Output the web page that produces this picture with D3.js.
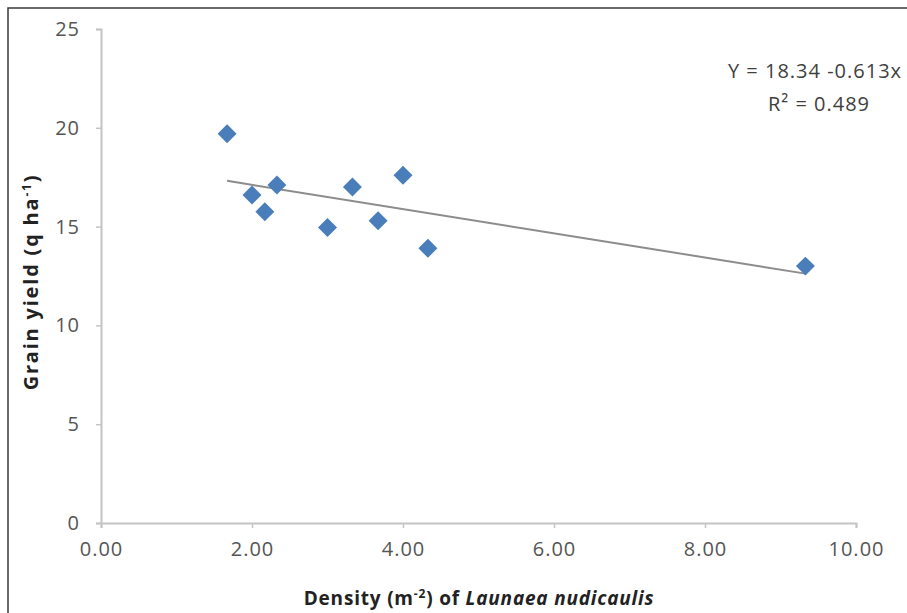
<!DOCTYPE html>
<html>
<head>
<meta charset="utf-8">
<script src="https://cdn.jsdelivr.net/npm/d3@7"></script>
<style>
  body { margin: 0; background: #fff; }
  svg { display: block; font-family: "Open Sans", "Liberation Sans", sans-serif; }
</style>
</head>
<body>
<svg id="chart" width="907" height="613"></svg>
<script>
// weed density (plants m-2) vs grain yield (q/ha)
var density = [1.67, 2.00, 2.17, 2.33, 3.00, 3.33, 3.67, 4.00, 4.33, 9.33]
var grainYield = [19.7, 16.6, 15.75, 17.1, 14.95, 17.0, 15.3, 17.6, 13.9, 13.0]
var xTicks = [0, 2, 4, 6, 8, 10]
var yTicks = [0, 5, 10, 15, 20, 25]
var intercept = 18.34, slope = -0.613
var equationLines = ['Y = 18.34 -0.613x', 'R² = 0.489']

var svg = d3.select('#chart')

var x = d3.scaleLinear().domain([0, 10]).range([101, 856])
var y = d3.scaleLinear().domain([0, 25]).range([523, 29])

// outer frame
svg.append('rect')
  .attr('x', 8).attr('y', 8)
  .attr('width', 920).attr('height', 640)
  .attr('fill', 'none')
  .attr('stroke', '#3a3a3a')
  .attr('stroke-width', 1.5)

var axisColor = '#c4c4c4'
var labelColor = '#555'

var yAxis = svg.append('g')
  .attr('transform', 'translate(' + x(0) + ',0)')
  .call(d3.axisLeft(y).tickValues(yTicks).tickSize(5).tickPadding(16).tickFormat(d3.format('d')))
var xAxis = svg.append('g')
  .attr('transform', 'translate(0,' + y(0) + ')')
  .call(d3.axisBottom(x).tickValues(xTicks).tickSize(5).tickPadding(14).tickFormat(d3.format('.2f')))

;[xAxis, yAxis].forEach(function (g) {
  g.select('.domain').attr('stroke', axisColor).attr('stroke-width', 2)
  g.selectAll('.tick line').attr('stroke', axisColor).attr('stroke-width', 1.5)
  g.selectAll('.tick text')
    .attr('fill', labelColor)
    .style('font-size', '20px')
    .style('letter-spacing', '1px')
    .style('font-family', '"Open Sans", sans-serif')
})

// linear trend line over the data range
var xMin = d3.min(density), xMax = d3.max(density)
svg.append('line')
  .attr('x1', x(xMin)).attr('y1', y(intercept + slope * xMin))
  .attr('x2', x(xMax)).attr('y2', y(intercept + slope * xMax))
  .attr('stroke', '#8c8c8c')
  .attr('stroke-width', 2)

var diamond = d3.symbol().type(d3.symbolSquare).size(180)
svg.append('g').selectAll('path')
  .data(density.map(function (d, i) { return [d, grainYield[i]] }))
  .join('path')
  .attr('d', diamond)
  .attr('transform', function (d) { return 'translate(' + x(d[0]) + ',' + y(d[1]) + ') rotate(45)' })
  .attr('fill', '#4a7ebb')

// regression label
var eq = svg.append('text')
  .attr('text-anchor', 'middle')
  .attr('fill', '#404040')
  .style('font-size', '20px')
  .style('letter-spacing', '1px')
eq.selectAll('tspan')
  .data(equationLines)
  .join('tspan')
  .attr('x', function (d, i) { return i ? 819 : 815 })
  .attr('y', function (d, i) { return 78 + i * 33 })
  .text(function (d) { return d })

// axis titles
var xTitle = svg.append('text')
  .attr('x', 479).attr('y', 605)
  .attr('text-anchor', 'middle')
  .attr('fill', '#222')
  .style('font-size', '19px')
  .style('letter-spacing', '0.8px')
  .style('font-weight', 'bold')
xTitle.append('tspan').text('Density (m')
xTitle.append('tspan').attr('dy', -7).style('font-size', '12px').text('-2')
xTitle.append('tspan').attr('dy', 7).text(') of ')
xTitle.append('tspan').style('font-style', 'italic').text('Launaea nudicaulis')

var yTitle = svg.append('text')
  .attr('transform', 'translate(38,282) rotate(-90)')
  .attr('text-anchor', 'middle')
  .attr('fill', '#222')
  .style('font-size', '20px')
  .style('letter-spacing', '1.8px')
  .style('font-weight', 'bold')
yTitle.append('tspan').text('Grain yield (q ha')
yTitle.append('tspan').attr('dy', -7).style('font-size', '12px').text('-1')
yTitle.append('tspan').attr('dy', 7).text(')')
</script>
</body>
</html>
